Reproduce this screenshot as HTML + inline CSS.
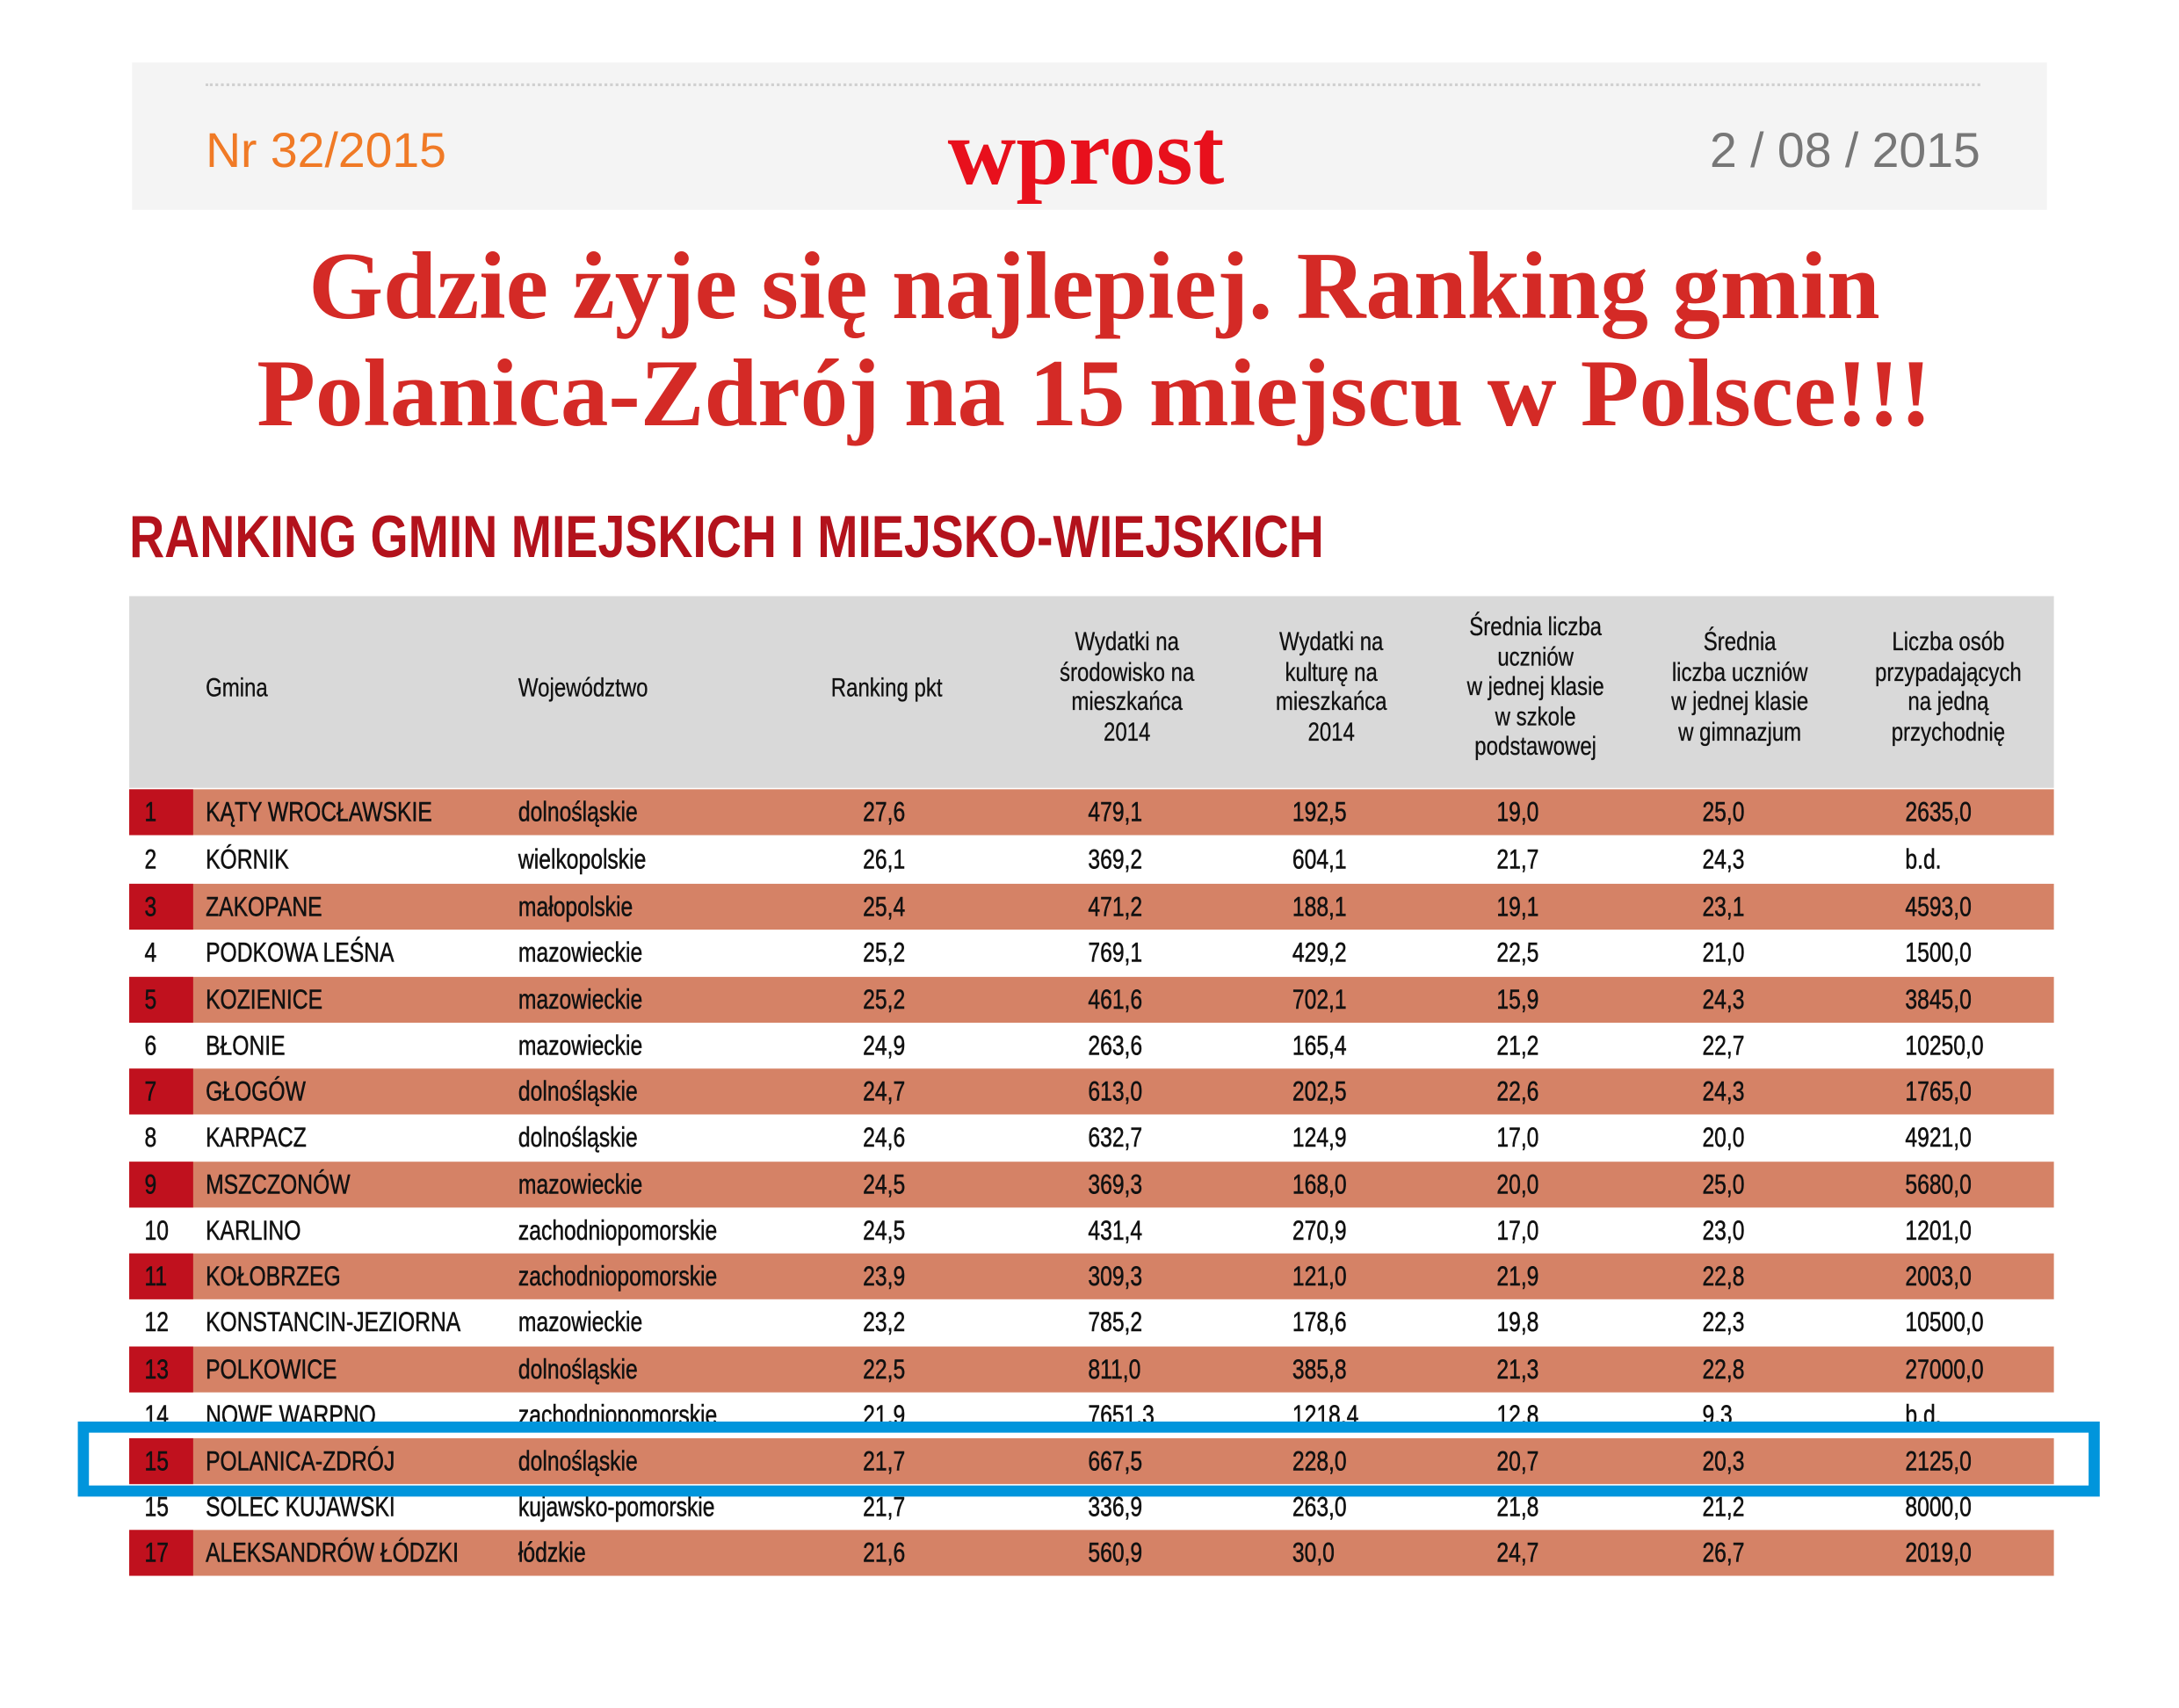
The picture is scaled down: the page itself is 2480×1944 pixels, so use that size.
<!DOCTYPE html>
<html><head><meta charset="utf-8">
<style>
html,body{margin:0;padding:0;background:#fff;width:2480px;height:1943px;overflow:hidden}
#w{position:absolute;left:0;top:0;width:1568px;height:1229px;transform:scale(1.5816,1.5816);transform-origin:0 0;font-family:"Liberation Sans",sans-serif}
.a{position:absolute;white-space:nowrap}
.hb{left:95px;top:45px;width:1378px;height:106px;background:#f4f4f4}
.dot{left:148px;top:60px;width:1277px;border-top:2px dotted #d0d0d0}
.title{left:0;width:1575px;text-align:center;font-family:"Liberation Serif",serif;font-weight:bold;color:#d42a26;font-size:69px}
.row{position:absolute;left:93px;width:1385px;height:33px}
.row.c{background:#d58266}
.row.c .rk{position:absolute;left:0;top:0;width:46px;height:33px;background:#c0111e}
.t{position:absolute;top:6px;font-size:20px;color:#111;white-space:nowrap;transform:scaleX(0.78);transform-origin:0 0;-webkit-text-stroke:0.35px #111}
.h{position:absolute;font-size:18.5px;color:#111;text-align:center;line-height:21.5px;white-space:nowrap;transform:scaleX(0.82);-webkit-text-stroke:0.2px #111}
.hl{transform-origin:0 0}
</style></head><body><div id="w">
<div class="a hb"></div>
<div class="a dot"></div>
<div class="a" style="left:148px;top:89px;font-size:35px;color:#f07a26">Nr 32/2015</div>
<div class="a" style="left:682px;top:70px;font-family:'Liberation Serif',serif;font-weight:bold;font-size:68px;color:#e8101c;letter-spacing:0px">wprost</div>
<div class="a" style="right:143px;top:89px;font-size:35px;color:#777">2 / 08 / 2015</div>
<div class="a title" style="top:167px">Gdzie żyje się najlepiej. Ranking gmin</div>
<div class="a title" style="top:244px">Polanica-Zdrój na 15 miejscu w Polsce!!!</div>
<div class="a" style="left:93px;top:363px;font-weight:bold;font-size:43px;color:#b3121c;transform:scaleX(0.816);transform-origin:0 0">RANKING GMIN MIEJSKICH I MIEJSKO-WIEJSKICH</div>
<div class="a" style="left:93px;top:429px;width:1385px;height:138px;background:#d9d9d9"></div>
<div class="h hl" style="left:148px;top:484px">Gmina</div>
<div class="h hl" style="left:373px;top:484px">Województwo</div>
<div class="h hl" style="left:598px;top:484px">Ranking pkt</div>
<div class="h" style="left:731px;top:451px;width:160px">Wydatki na<br>środowisko na<br>mieszkańca<br>2014</div>
<div class="h" style="left:878px;top:451px;width:160px">Wydatki na<br>kulturę na<br>mieszkańca<br>2014</div>
<div class="h" style="left:1025px;top:440px;width:160px">Średnia liczba<br>uczniów<br>w jednej klasie<br>w szkole<br>podstawowej</div>
<div class="h" style="left:1172px;top:451px;width:160px">Średnia<br>liczba uczniów<br>w jednej klasie<br>w gimnazjum</div>
<div class="h" style="left:1322px;top:451px;width:160px">Liczba osób<br>przypadających<br>na jedną<br>przychodnię</div>

<div class="row c" style="top:568px"><div class="rk"></div><span class="t" style="left:11px">1</span><span class="t" style="left:55px">KĄTY WROCŁAWSKIE</span><span class="t" style="left:280px">dolnośląskie</span><span class="t" style="left:528px">27,6</span><span class="t" style="left:690px">479,1</span><span class="t" style="left:837px">192,5</span><span class="t" style="left:984px">19,0</span><span class="t" style="left:1132px">25,0</span><span class="t" style="left:1278px">2635,0</span></div>
<div class="row" style="top:602px"><span class="t" style="left:11px">2</span><span class="t" style="left:55px">KÓRNIK</span><span class="t" style="left:280px">wielkopolskie</span><span class="t" style="left:528px">26,1</span><span class="t" style="left:690px">369,2</span><span class="t" style="left:837px">604,1</span><span class="t" style="left:984px">21,7</span><span class="t" style="left:1132px">24,3</span><span class="t" style="left:1278px">b.d.</span></div>
<div class="row c" style="top:636px"><div class="rk"></div><span class="t" style="left:11px">3</span><span class="t" style="left:55px">ZAKOPANE</span><span class="t" style="left:280px">małopolskie</span><span class="t" style="left:528px">25,4</span><span class="t" style="left:690px">471,2</span><span class="t" style="left:837px">188,1</span><span class="t" style="left:984px">19,1</span><span class="t" style="left:1132px">23,1</span><span class="t" style="left:1278px">4593,0</span></div>
<div class="row" style="top:669px"><span class="t" style="left:11px">4</span><span class="t" style="left:55px">PODKOWA LEŚNA</span><span class="t" style="left:280px">mazowieckie</span><span class="t" style="left:528px">25,2</span><span class="t" style="left:690px">769,1</span><span class="t" style="left:837px">429,2</span><span class="t" style="left:984px">22,5</span><span class="t" style="left:1132px">21,0</span><span class="t" style="left:1278px">1500,0</span></div>
<div class="row c" style="top:703px"><div class="rk"></div><span class="t" style="left:11px">5</span><span class="t" style="left:55px">KOZIENICE</span><span class="t" style="left:280px">mazowieckie</span><span class="t" style="left:528px">25,2</span><span class="t" style="left:690px">461,6</span><span class="t" style="left:837px">702,1</span><span class="t" style="left:984px">15,9</span><span class="t" style="left:1132px">24,3</span><span class="t" style="left:1278px">3845,0</span></div>
<div class="row" style="top:736px"><span class="t" style="left:11px">6</span><span class="t" style="left:55px">BŁONIE</span><span class="t" style="left:280px">mazowieckie</span><span class="t" style="left:528px">24,9</span><span class="t" style="left:690px">263,6</span><span class="t" style="left:837px">165,4</span><span class="t" style="left:984px">21,2</span><span class="t" style="left:1132px">22,7</span><span class="t" style="left:1278px">10250,0</span></div>
<div class="row c" style="top:769px"><div class="rk"></div><span class="t" style="left:11px">7</span><span class="t" style="left:55px">GŁOGÓW</span><span class="t" style="left:280px">dolnośląskie</span><span class="t" style="left:528px">24,7</span><span class="t" style="left:690px">613,0</span><span class="t" style="left:837px">202,5</span><span class="t" style="left:984px">22,6</span><span class="t" style="left:1132px">24,3</span><span class="t" style="left:1278px">1765,0</span></div>
<div class="row" style="top:802px"><span class="t" style="left:11px">8</span><span class="t" style="left:55px">KARPACZ</span><span class="t" style="left:280px">dolnośląskie</span><span class="t" style="left:528px">24,6</span><span class="t" style="left:690px">632,7</span><span class="t" style="left:837px">124,9</span><span class="t" style="left:984px">17,0</span><span class="t" style="left:1132px">20,0</span><span class="t" style="left:1278px">4921,0</span></div>
<div class="row c" style="top:836px"><div class="rk"></div><span class="t" style="left:11px">9</span><span class="t" style="left:55px">MSZCZONÓW</span><span class="t" style="left:280px">mazowieckie</span><span class="t" style="left:528px">24,5</span><span class="t" style="left:690px">369,3</span><span class="t" style="left:837px">168,0</span><span class="t" style="left:984px">20,0</span><span class="t" style="left:1132px">25,0</span><span class="t" style="left:1278px">5680,0</span></div>
<div class="row" style="top:869px"><span class="t" style="left:11px">10</span><span class="t" style="left:55px">KARLINO</span><span class="t" style="left:280px">zachodniopomorskie</span><span class="t" style="left:528px">24,5</span><span class="t" style="left:690px">431,4</span><span class="t" style="left:837px">270,9</span><span class="t" style="left:984px">17,0</span><span class="t" style="left:1132px">23,0</span><span class="t" style="left:1278px">1201,0</span></div>
<div class="row c" style="top:902px"><div class="rk"></div><span class="t" style="left:11px">11</span><span class="t" style="left:55px">KOŁOBRZEG</span><span class="t" style="left:280px">zachodniopomorskie</span><span class="t" style="left:528px">23,9</span><span class="t" style="left:690px">309,3</span><span class="t" style="left:837px">121,0</span><span class="t" style="left:984px">21,9</span><span class="t" style="left:1132px">22,8</span><span class="t" style="left:1278px">2003,0</span></div>
<div class="row" style="top:935px"><span class="t" style="left:11px">12</span><span class="t" style="left:55px">KONSTANCIN-JEZIORNA</span><span class="t" style="left:280px">mazowieckie</span><span class="t" style="left:528px">23,2</span><span class="t" style="left:690px">785,2</span><span class="t" style="left:837px">178,6</span><span class="t" style="left:984px">19,8</span><span class="t" style="left:1132px">22,3</span><span class="t" style="left:1278px">10500,0</span></div>
<div class="row c" style="top:969px"><div class="rk"></div><span class="t" style="left:11px">13</span><span class="t" style="left:55px">POLKOWICE</span><span class="t" style="left:280px">dolnośląskie</span><span class="t" style="left:528px">22,5</span><span class="t" style="left:690px">811,0</span><span class="t" style="left:837px">385,8</span><span class="t" style="left:984px">21,3</span><span class="t" style="left:1132px">22,8</span><span class="t" style="left:1278px">27000,0</span></div>
<div class="row" style="top:1002px"><span class="t" style="left:11px">14</span><span class="t" style="left:55px">NOWE WARPNO</span><span class="t" style="left:280px">zachodniopomorskie</span><span class="t" style="left:528px">21,9</span><span class="t" style="left:690px">7651,3</span><span class="t" style="left:837px">1218,4</span><span class="t" style="left:984px">12,8</span><span class="t" style="left:1132px">9,3</span><span class="t" style="left:1278px">b.d.</span></div>
<div class="row c" style="top:1035px"><div class="rk"></div><span class="t" style="left:11px">15</span><span class="t" style="left:55px">POLANICA-ZDRÓJ</span><span class="t" style="left:280px">dolnośląskie</span><span class="t" style="left:528px">21,7</span><span class="t" style="left:690px">667,5</span><span class="t" style="left:837px">228,0</span><span class="t" style="left:984px">20,7</span><span class="t" style="left:1132px">20,3</span><span class="t" style="left:1278px">2125,0</span></div>
<div class="row" style="top:1068px"><span class="t" style="left:11px">15</span><span class="t" style="left:55px">SOLEC KUJAWSKI</span><span class="t" style="left:280px">kujawsko-pomorskie</span><span class="t" style="left:528px">21,7</span><span class="t" style="left:690px">336,9</span><span class="t" style="left:837px">263,0</span><span class="t" style="left:984px">21,8</span><span class="t" style="left:1132px">21,2</span><span class="t" style="left:1278px">8000,0</span></div>
<div class="row c" style="top:1101px"><div class="rk"></div><span class="t" style="left:11px">17</span><span class="t" style="left:55px">ALEKSANDRÓW ŁÓDZKI</span><span class="t" style="left:280px">łódzkie</span><span class="t" style="left:528px">21,6</span><span class="t" style="left:690px">560,9</span><span class="t" style="left:837px">30,0</span><span class="t" style="left:984px">24,7</span><span class="t" style="left:1132px">26,7</span><span class="t" style="left:1278px">2019,0</span></div>
<div class="a" style="left:56px;top:1023px;width:1439px;height:38px;border:8px solid #0095dc"></div>
</div></body></html>
